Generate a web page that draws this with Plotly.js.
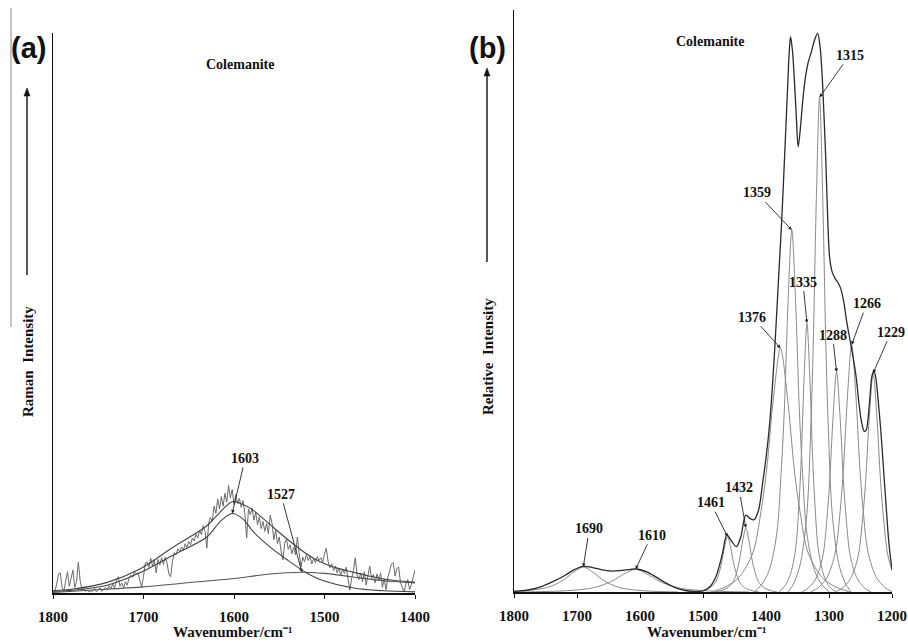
<!DOCTYPE html>
<html>
<head>
<meta charset="utf-8">
<script src="https://cdn.plot.ly/plotly-3.0.1.min.js"></script>
<style>html,body{margin:0;padding:0;background:#fff;}#chart{width:908px;height:644px;}</style>
</head>
<body>
<div id="chart"></div>
<script>
// ---------- Panel (a) data ----------
const tickValsA = [1800, 1700, 1600, 1500, 1400];
const wnA = [1800,1798,1796,1794,1792,1790,1788,1786,1784,1782,
1780,1778,1776,1774,1772,1770,1768,1766,1764,1762,
1760,1758,1756,1754,1752,1750,1748,1746,1744,1742,
1740,1738,1736,1734,1732,1730,1728,1726,1724,1722,
1720,1718,1716,1714,1712,1710,1708,1706,1704,1702,
1700,1698,1696,1694,1692,1690,1688,1686,1684,1682,
1680,1678,1676,1674,1672,1670,1668,1666,1664,1662,
1660,1658,1656,1654,1652,1650,1648,1646,1644,1642,
1640,1638,1636,1634,1632,1630,1628,1626,1624,1622,
1620,1618,1616,1614,1612,1610,1608,1606,1604,1602,
1600,1598,1596,1594,1592,1590,1588,1586,1584,1582,
1580,1578,1576,1574,1572,1570,1568,1566,1564,1562,
1560,1558,1556,1554,1552,1550,1548,1546,1544,1542,
1540,1538,1536,1534,1532,1530,1528,1526,1524,1522,
1520,1518,1516,1514,1512,1510,1508,1506,1504,1502,
1500,1498,1496,1494,1492,1490,1488,1486,1484,1482,
1480,1478,1476,1474,1472,1470,1468,1466,1464,1462,
1460,1458,1456,1454,1452,1450,1448,1446,1444,1442,
1440,1438,1436,1434,1432,1430,1428,1426,1424,1422,
1420,1418,1416,1414,1412,1410,1408,1406,1404,1402,
1400];
const rawA = [0.5,0.3,1.5,3.4,3.6,1.0,0.4,2.0,3.8,1.2,
2.5,4.1,1.0,2.0,5.5,2.2,0.6,0.8,0.3,0.5,
0.2,0.4,0.3,0.8,0.2,0.5,0.9,0.3,0.6,1.0,
0.5,1.3,0.8,1.6,0.9,2.2,2.9,1.2,1.8,1.0,
2.0,1.4,2.6,3.2,2.8,3.8,3.4,3.6,2.2,1.1,
3.0,5.4,5.5,4.6,6.2,4.8,5.9,3.6,6.0,5.0,
6.3,5.1,6.4,5.4,3.4,2.9,5.6,7.2,6.8,7.9,
7.4,8.2,7.6,8.8,8.1,9.2,8.6,9.8,9.3,10.5,
9.8,11.2,10.4,12.0,11.0,8.0,12.5,13.5,12.8,15.5,
14.2,16.8,15.0,17.2,15.5,17.8,16.2,19.2,17.0,18.5,
15.8,17.6,16.0,16.9,15.3,16.5,14.2,9.8,15.0,14.0,
15.2,13.0,14.4,12.2,13.6,11.5,12.8,11.0,12.4,10.6,
13.9,12.5,9.5,11.2,8.8,10.0,7.5,5.9,8.9,9.6,
7.8,8.6,7.0,8.2,6.8,10.0,7.2,4.6,6.4,5.6,
6.9,5.8,6.6,5.2,6.2,5.4,6.5,5.8,6.3,5.5,
7.0,8.0,5.6,4.5,5.2,4.0,4.8,3.6,4.4,3.2,
4.2,3.5,4.6,2.2,0.5,2.6,4.0,6.3,3.2,2.4,
3.6,2.0,3.8,1.4,3.0,4.8,2.6,3.3,1.8,3.4,
2.2,3.6,1.0,2.5,0.6,2.8,4.0,5.2,5.4,3.0,
4.4,4.6,1.8,0.8,0.2,1.6,2.4,0.6,1.5,2.8,
4.1];
const fitA_wn = [1800,1778,1740,1704,1667,1630,1615,1602,1590,1579,1560,1541,1520,1505,1485,1468,1450,1431,1400];
const fitA_int = [0.4,0.7,1.9,4.3,8.2,12,14.5,16.3,15.8,14.8,12.2,9.6,7.0,5.6,4.4,3.7,3.0,2.4,1.9];
const band1603_wn = [1800,1778,1740,1704,1667,1630,1615,1602,1590,1579,1560,1541,1520,1505,1468,1435,1400];
const band1603_int = [0.3,0.5,1.4,3.6,6.8,10,12.8,14.2,13.2,11,8.2,5.9,3.6,2.4,0.9,0.4,0.2];
const band1527_wn = [1800,1760,1700,1640,1600,1560,1525,1500,1470,1440,1420,1400];
const band1527_int = [0.1,0.5,1.1,2.0,2.6,3.4,3.7,3.5,2.9,2.3,2.0,1.8];
const labelsA = ['1603', '1527'];

// ---------- Panel (b) data ----------
const tickValsB = [1800, 1700, 1600, 1500, 1400, 1300, 1200];
const envB_wn = [1800,1780,1760,1740,1720,1705,1690,1675,1660,1645,1630,1615,1605,1590,1575,1560,1545,1530,1515,1500,1490,1480,1470,1462,1455,1447,1440,1432,1425,1419,1412,1405,1400,1395,1390,1385,1380,1375,1370,1366,1363,1361,1358,1355,1352,1349,1346,1342,1338,1333,1328,1323,1318,1314,1311,1308,1305,1302,1299,1295,1290,1285,1281,1276,1272,1267,1262,1257,1252,1248,1244,1241,1238,1235,1232,1229,1226,1222,1218,1214,1210,1205,1200];
const envB_int = [0.1,0.3,0.8,1.7,2.8,3.8,4.4,4.2,3.8,3.6,3.7,3.9,3.95,3.5,2.6,1.6,0.8,0.3,0.1,0.2,0.8,2.5,6.2,9.8,8.8,7.8,9.5,13.2,12.6,12.4,14,19,23,28,35,44,54,64,76,86,93,95.4,93,88,82,76.5,79,84,88,91,92.8,94.8,96,93.5,89,82,74,64,57.5,55,53.8,53,52,49.5,46.5,43.5,40.5,37,32,29,27.6,27.8,29.8,33.5,37,38,37,33,28,22,15.8,8.5,3.8];

const b1690_wn = [1540,1570,1600,1630,1648,1660,1675,1690,1705,1720,1732,1750,1780,1810,1840];
const b1690_int = [0,0.09,0.26,0.69,1.42,2.15,3.44,4.3,3.44,2.15,1.42,0.69,0.26,0.09,0];
const b1610_wn = [1427,1463,1499,1535,1557,1571,1589,1607,1625,1643,1657,1679,1715,1751,1787];
const b1610_int = [0,0.08,0.23,0.62,1.29,1.95,3.12,3.9,3.12,1.95,1.29,0.62,0.23,0.08,0];
const b1461_wn = [1411,1421,1431,1441,1447,1451,1456,1461,1466,1471,1475,1481,1491,1501,1511];
const b1461_int = [0,0.19,0.57,1.52,3.14,4.75,7.6,9.5,7.6,4.75,3.14,1.52,0.57,0.19,0];
const b1432_wn = [1382,1392,1402,1412,1418,1422,1427,1432,1437,1442,1446,1452,1462,1472,1482];
const b1432_int = [0,0.22,0.66,1.76,3.63,5.5,8.8,11,8.8,5.5,3.63,1.76,0.66,0.22,0];
const b1376_wn = [1267,1289,1311,1333,1346,1355,1366,1377,1388,1399,1408,1421,1443,1465,1487];
const b1376_int = [0,0.84,2.51,6.7,13.8,20.95,33.5,41.9,33.5,20.95,13.8,6.7,2.51,0.84,0];
const b1359_wn = [1299,1311,1323,1335,1342,1347,1353,1359,1365,1371,1376,1383,1395,1407,1419];
const b1359_int = [0,1.24,3.73,9.95,20.5,31.1,49.8,62.2,49.8,31.1,20.5,9.95,3.73,1.24,0];
const b1335_wn = [1290,1299,1308,1317,1322.4,1326,1330.5,1335,1339.5,1344,1347.6,1353,1362,1371,1380];
const b1335_int = [0,0.92,2.77,7.39,15.2,23.1,37,46.2,37,23.1,15.2,7.39,2.77,0.92,0];
const b1315_wn = [1265,1275,1285,1295,1301,1305,1310,1315,1320,1325,1329,1335,1345,1355,1365];
const b1315_int = [0,1.7,5.1,13.6,28,42.5,68,85,68,42.5,28,13.6,5.1,1.7,0];
const b1288_wn = [1233,1244,1255,1266,1272.6,1277,1282.5,1288,1293.5,1299,1303.4,1310,1321,1332,1343];
const b1288_int = [0,0.76,2.27,6.05,12.5,18.9,30.2,37.8,30.2,18.9,12.5,6.05,2.27,0.76,0];
const b1266_wn = [1199,1212,1225,1238,1245.8,1251,1257.5,1264,1270.5,1277,1282.2,1290,1303,1316,1329];
const b1266_int = [0,0.85,2.55,6.8,14,21.3,34,42.5,34,21.3,14,6.8,2.55,0.85,0];
const b1229_wn = [1170,1182,1194,1206,1213.2,1218,1224,1230,1236,1242,1246.8,1254,1266,1278,1290];
const b1229_int = [0,0.75,2.26,6.02,12.4,18.8,30.1,37.6,30.1,18.8,12.4,6.02,2.26,0.75,0];
const labelsB = ['1690','1610','1461','1432','1376','1359','1335','1315','1288','1266','1229'];

// ---------- build ----------
const SERIF = 'Liberation Serif, Times New Roman, serif';
const SANS = 'Liberation Sans, Arial, sans-serif';
const traces = [];
function line(x, y, color, width, xa, ya, shape) {
  traces.push({x: x, y: y, type: 'scatter', mode: 'lines', xaxis: xa, yaxis: ya,
    line: {color: color, width: width, shape: shape || 'linear', smoothing: 0.9},
    hoverinfo: 'skip'});
}
line(wnA, rawA, '#6a6a6a', 1, 'x', 'y');
line(band1527_wn, band1527_int, '#555', 1.1, 'x', 'y', 'spline');
line(band1603_wn, band1603_int, '#444', 1.1, 'x', 'y', 'spline');
line(fitA_wn, fitA_int, '#444', 1.1, 'x', 'y', 'spline');

const bandsB = [
  [b1690_wn, b1690_int], [b1610_wn, b1610_int], [b1461_wn, b1461_int], [b1432_wn, b1432_int],
  [b1376_wn, b1376_int], [b1359_wn, b1359_int], [b1335_wn, b1335_int], [b1315_wn, b1315_int],
  [b1288_wn, b1288_int], [b1266_wn, b1266_int], [b1229_wn, b1229_int]
];
bandsB.forEach(b => line(b[0], b[1], '#8a8a8a', 1, 'x2', 'y2', 'spline'));
line(envB_wn, envB_int, '#2a2a2a', 1.3, 'x2', 'y2', 'spline');

function peakOf(xs, ys) {
  let k = 0; for (let i = 1; i < ys.length; i++) if (ys[i] > ys[k]) k = i;
  return [xs[k], ys[k]];
}
const annFont = {family: SERIF, size: 14, color: '#111', weight: 'bold'};
const annotations = [];
// label offsets (pixels from arrow tip to text centre)
const offA = [[13, -55], [-21, -78]];
const bandsA = [[band1603_wn, band1603_int], [band1527_wn, band1527_int]];
labelsA.forEach((t, i) => {
  const p = peakOf(bandsA[i][0], bandsA[i][1]);
  annotations.push({x: p[0], y: p[1], xref: 'x', yref: 'y', text: t,
    showarrow: true, arrowhead: 2, arrowsize: 0.8, arrowwidth: 0.9, arrowcolor: '#222',
    ax: offA[i][0], ay: offA[i][1], font: annFont, standoff: 0});
});
const offB = [[6,-38],[16,-34],[-17,-34],[-7,-40],[-28,-31],[-35,-37],[-4,-41],[30,-42],[-4,-37],[15,-41],[18,-41]];
labelsB.forEach((t, i) => {
  const p = peakOf(bandsB[i][0], bandsB[i][1]);
  annotations.push({x: p[0], y: p[1], xref: 'x2', yref: 'y2', text: t,
    showarrow: true, arrowhead: 2, arrowsize: 0.8, arrowwidth: 0.9, arrowcolor: '#222',
    ax: offB[i][0], ay: offB[i][1], font: annFont, standoff: 0});
});
function paperText(text, px, py, font, angle) {
  annotations.push({x: px / 908, y: 1 - py / 644, xref: 'paper', yref: 'paper', text: text,
    showarrow: false, xanchor: 'center', yanchor: 'middle', font: font, textangle: angle || 0});
}
const boldSerif = s => ({family: SERIF, size: s, color: '#111', weight: 'bold'});
paperText('(a)', 28, 48, {family: SANS, size: 29, color: '#111', weight: 'bold'});
paperText('(b)', 487, 48, {family: SANS, size: 29, color: '#111', weight: 'bold'});
paperText('Colemanite', 240, 65, boldSerif(14));
paperText('Colemanite', 710, 42, boldSerif(14));
paperText('Raman  Intensity', 28, 362, boldSerif(15), -90);
paperText('Relative  Intensity', 488, 356, boldSerif(15), -90);
paperText('Wavenumber/cm\u207B\u00B9', 233, 632, boldSerif(15));
paperText('Wavenumber/cm\u207B\u00B9', 707, 632, boldSerif(15));

// shapes: stray scan line and the two vertical intensity arrows (line + arrowhead path)
const px = v => v / 908, py = v => 1 - v / 644;
const shapes = [{type: 'line', xref: 'paper', yref: 'paper', x0: px(11), x1: px(11),
  y0: py(8), y1: py(327), line: {color: '#888', width: 1}}];
[[27, 88, 275], [487, 68, 262]].forEach(a => {
  shapes.push({type: 'line', xref: 'paper', yref: 'paper', x0: px(a[0]), x1: px(a[0]),
    y0: py(a[1] + 4), y1: py(a[2]), line: {color: '#111', width: 1.4}});
  shapes.push({type: 'path', xref: 'paper', yref: 'paper',
    path: 'M ' + px(a[0]) + ' ' + py(a[1]) + ' L ' + px(a[0] - 3) + ' ' + py(a[1] + 8) +
          ' L ' + px(a[0] + 3) + ' ' + py(a[1] + 8) + ' Z',
    fillcolor: '#111', line: {color: '#111', width: 0.5}});
});

const tickFont = {family: SERIF, size: 15, color: '#111', weight: 'bold'};
function xax(domain, range, vals, anchor) {
  return {domain: domain, range: range, anchor: anchor, showline: true, linecolor: '#111', linewidth: 1.5,
    ticks: 'outside', ticklen: 4, tickwidth: 1, tickcolor: '#111', tickvals: vals,
    ticktext: vals.map(v => String(v)), tickfont: tickFont,
    showgrid: false, zeroline: false, ticklabelstandoff: 5};
}
function yax(domain, anchor) {
  return {domain: domain, range: [0, 100], anchor: anchor, showline: true, linecolor: '#111', linewidth: 1.5,
    showticklabels: false, ticks: '', showgrid: false, zeroline: false};
}
const layout = {
  width: 908, height: 644, margin: {l: 0, r: 0, t: 0, b: 0},
  paper_bgcolor: '#fff', plot_bgcolor: '#fff', showlegend: false,
  xaxis: xax([53 / 908, 415 / 908], [1800, 1400], tickValsA, 'y'),
  yaxis: yax([51 / 644, 611 / 644], 'x'),
  xaxis2: xax([514 / 908, 892 / 908], [1800, 1200], tickValsB, 'y2'),
  yaxis2: yax([52 / 644, 634 / 644], 'x2'),
  annotations: annotations,
  shapes: shapes
};
Plotly.newPlot('chart', traces, layout, {staticPlot: true, displayModeBar: false});
</script>
</body>
</html>
